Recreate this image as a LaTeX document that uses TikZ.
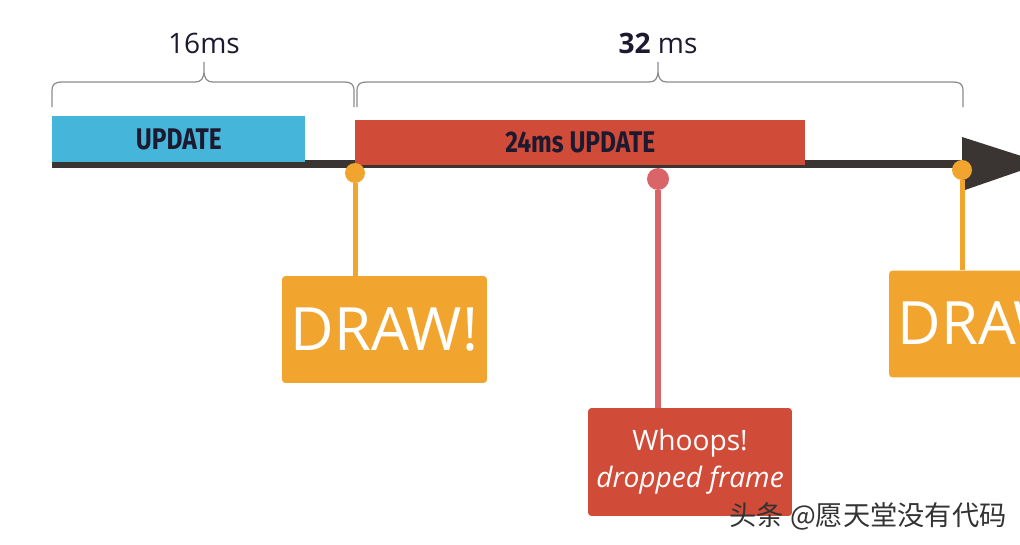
\documentclass[tikz,border=0pt]{standalone}
\usepackage{fontspec}
\setmainfont{Open Sans}
\newfontfamily\barfont{Fira Sans}
\newfontfamily\cjkfont{Noto Sans CJK SC}
\usetikzlibrary{positioning}

\definecolor{updblue}{HTML}{45B5D9}
\definecolor{updred}{HTML}{D14B39}
\definecolor{drworange}{HTML}{F2A52E}
\definecolor{droppink}{HTML}{DA6568}
\definecolor{barcol}{HTML}{3A3533}
\definecolor{bracecol}{HTML}{8C8C8C}
\definecolor{inkcol}{HTML}{1D1A30}

\tikzset{
  bracket/.style={draw=bracecol,line width=0.7pt},
  updbox/.style={inner sep=0pt,text=inkcol,font=\barfont\bfseries\fontsize{17}{20}\selectfont},
  drawbox/.style={fill=drworange,rounded corners=2pt,minimum width=4.1cm,minimum height=2.14cm,inner sep=0pt,text=white,font=\fontsize{34}{40}\selectfont},
  dot/.style={circle,inner sep=0pt,minimum size=#1},
}

\begin{document}
\begin{tikzpicture}[x=0.02cm,y=-0.02cm]
    \useasboundingbox (0,0) rectangle (1020,544);
    \clip (0,0) rectangle (1020,544);
    \fill [white] (0,0) rectangle (1020,544);

    % time line
    \draw [barcol,line width=0.16cm] (52,164) -- (963,164);
    \fill [barcol] (962,137) -- (1043,163) -- (962,191) -- cycle;

    % frames
    \node [updbox,fill=updblue,minimum width=5.06cm,minimum height=0.92cm,anchor=north west] (upd16) at (52,116) {\scalebox{0.82}[1]{UPDATE}};
    \node [updbox,fill=updred,minimum width=9cm,minimum height=0.9cm,anchor=north west] (upd24) at (355,120) {\scalebox{0.82}[1]{24ms UPDATE}};

    % braces
    \draw [bracket] (52,107) -- (52,91) .. controls (52,84) and (55,82) .. (62,82) -- (195,82)
        .. controls (201,82) and (204,79) .. (204,70) -- (204,62) -- (204,70)
        .. controls (204,79) and (207,82) .. (213,82) -- (344,82) .. controls (351,82) and (354,84) .. (354,91) -- (354,107);
    \draw [bracket] (357,107) -- (357,91) .. controls (357,84) and (360,82) .. (367,82) -- (649,82)
        .. controls (655,82) and (658,79) .. (658,70) -- (658,62) -- (658,70)
        .. controls (658,79) and (661,82) .. (667,82) -- (953,82) .. controls (960,82) and (963,84) .. (963,91) -- (963,107);
    \node [text=inkcol,font=\fontsize{16}{19}\selectfont] (ms16) at (204,43) {16ms};
    \node [text=inkcol,font=\fontsize{16}{19}\selectfont] (ms32) at (658,43) {{\bfseries 32} ms};

    % draw calls
    \node [drawbox] (draw1) at (384.5,329.5) {DRAW!};
    \node [drawbox] (draw2) at (991.5,324) {DRAW!};
    \node [fill=updred,rounded corners=2pt,minimum width=4.08cm,minimum height=2.16cm,inner sep=0pt,text=white,align=center,
           font=\fontsize{16}{21}\selectfont] (whoops) at (690,462) {Whoops!\\\itshape dropped frame};

    \node [dot=0.4cm,fill=drworange] (vs1) at (355,173) {};
    \node [dot=0.44cm,fill=droppink] (vs2) at (658,179) {};
    \node [dot=0.4cm,fill=drworange] (vs3) at (962,170) {};

    \draw [drworange,line width=0.1cm] (vs1) -- (vs1 |- draw1.north);
    \draw [droppink,line width=0.12cm] (vs2) -- (vs2 |- whoops.north);
    \draw [drworange,line width=0.1cm] (vs3) -- (vs3 |- draw2.north);

    \node [text=black!80,font=\cjkfont\fontsize{15.5}{18}\selectfont] (mark) at (868,516) {头条 @愿天堂没有代码};
\end{tikzpicture}
\end{document}
